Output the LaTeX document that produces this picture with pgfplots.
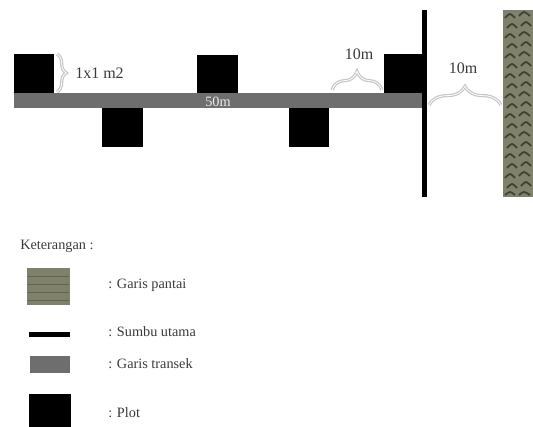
\documentclass[border=0pt]{standalone}
\usepackage{pgfplots}
\pgfplotsset{compat=1.18}
\usepackage{fontspec}
\setmainfont{Liberation Serif}
\usetikzlibrary{decorations.pathreplacing}
\definecolor{transek}{HTML}{6E6E6E}
\definecolor{pantai}{HTML}{7F816A}
\definecolor{pantaidark}{HTML}{3F4034}
\definecolor{txt}{HTML}{3A3A3A}
\tikzset{
  kurung/.style={decorate,decoration={brace,amplitude=#1},draw=gray!45,line width=0.9pt,double=white,double distance=0.6pt},
  lbl/.style={font=\fontsize{10.7}{12}\selectfont,text=txt,anchor=west,inner sep=0pt},
  besar/.style={font=\fontsize{12}{13}\selectfont}
}
\begin{document}
\begin{tikzpicture}
\begin{axis}[
    scale only axis,
    width=399.75pt,
    height=320.25pt,
    xmin=0, xmax=533,
    ymin=0, ymax=427,
    y dir=reverse,
    hide axis,
    clip=true,
    unbounded coords=jump
]
% keeps the whole page, the axis itself is hidden
\path (axis cs:0,0) rectangle (axis cs:533,427);
% garis transek
\addplot[fill=transek,draw=none] coordinates {(14,93) (425,93) (425,108) (14,108)} --cycle;
% plot
\addplot[fill=black,draw=none] coordinates {(14,54) (54,54) (54,93) (14,93)} --cycle;
\addplot[fill=black,draw=none] coordinates {(197,55) (238,55) (238,93) (197,93)} --cycle;
\addplot[fill=black,draw=none] coordinates {(384,54) (424,54) (424,93) (384,93)} --cycle;
\addplot[fill=black,draw=none] coordinates {(102,108) (143,108) (143,147) (102,147)} --cycle;
\addplot[fill=black,draw=none] coordinates {(289,108) (329,108) (329,147) (289,147)} --cycle;
% sumbu utama
\addplot[fill=black,draw=none] coordinates {(422,10) (427,10) (427,197) (422,197)} --cycle;
% garis pantai
\addplot[fill=pantai,draw=none] coordinates {(503,10) (533,10) (533,197) (503,197)} --cycle;
\addplot[pantaidark,line width=1.3pt,smooth] coordinates {
(505,18) (510,14) (515,18) (nan,nan) (519,16) (524,12) (530,16) (nan,nan)
(507,28) (512,24) (517,28) (nan,nan) (521,26) (526,22) (531,26) (nan,nan)
(505,38) (510,34) (515,38) (nan,nan) (519,36) (524,32) (530,36) (nan,nan)
(507,48) (512,44) (517,48) (nan,nan) (521,46) (526,42) (531,46) (nan,nan)
(505,58) (510,54) (515,58) (nan,nan) (519,56) (524,52) (530,56) (nan,nan)
(507,68) (512,64) (517,68) (nan,nan) (521,66) (526,62) (531,66) (nan,nan)
(505,78) (510,74) (515,78) (nan,nan) (519,76) (524,72) (530,76) (nan,nan)
(507,88) (512,84) (517,88) (nan,nan) (521,86) (526,82) (531,86) (nan,nan)
(505,98) (510,94) (515,98) (nan,nan) (519,96) (524,92) (530,96) (nan,nan)
(507,108) (512,104) (517,108) (nan,nan) (521,106) (526,102) (531,106) (nan,nan)
(505,118) (510,114) (515,118) (nan,nan) (519,116) (524,112) (530,116) (nan,nan)
(507,128) (512,124) (517,128) (nan,nan) (521,126) (526,122) (531,126) (nan,nan)
(505,138) (510,134) (515,138) (nan,nan) (519,136) (524,132) (530,136) (nan,nan)
(507,148) (512,144) (517,148) (nan,nan) (521,146) (526,142) (531,146) (nan,nan)
(505,158) (510,154) (515,158) (nan,nan) (519,156) (524,152) (530,156) (nan,nan)
(507,168) (512,164) (517,168) (nan,nan) (521,166) (526,162) (531,166) (nan,nan)
(505,178) (510,174) (515,178) (nan,nan) (519,176) (524,172) (530,176) (nan,nan)
(507,188) (512,184) (517,188) (nan,nan) (521,186) (526,182) (531,186) (nan,nan)
(505,195) (510,192) (515,195) (nan,nan) (519,195) (524,192) (530,195)
};
% keterangan
\addplot[fill=pantai,draw=none] coordinates {(27,268) (70,268) (70,305) (27,305)} --cycle;
\addplot[pantaidark!45!pantai,line width=0.5pt] coordinates {
(28,276) (69,276) (nan,nan) (28,284) (69,284) (nan,nan) (28,292) (69,292) (nan,nan) (28,300) (69,300)};
\addplot[fill=black,draw=none] coordinates {(29,332) (70,332) (70,337) (29,337)} --cycle;
\addplot[fill=transek,draw=none] coordinates {(30,356) (70,356) (70,373) (30,373)} --cycle;
\addplot[fill=black,draw=none] coordinates {(29,394) (71,394) (71,427) (29,427)} --cycle;
% kurung
\draw[kurung=7pt] (axis cs:57,54) -- (axis cs:57,92);
\draw[kurung=14pt] (axis cs:332,90) -- (axis cs:382,90);
\draw[kurung=14pt] (axis cs:429,105) -- (axis cs:501,105);
% teks
\node[lbl,besar] at (axis cs:75,73) {1x1 m2};
\node[lbl,besar,anchor=center] at (axis cs:359,54) {10m};
\node[lbl,besar,anchor=center] at (axis cs:463,68) {10m};
\node[lbl,text=white!85!gray,anchor=center] at (axis cs:218,102) {50m};
\node[lbl] at (axis cs:20,246) {Keterangan :};
\node[lbl] at (axis cs:108,285) {: Garis pantai};
\node[lbl] at (axis cs:108,332) {: Sumbu utama};
\node[lbl] at (axis cs:108,364) {: Garis transek};
\node[lbl] at (axis cs:108,413) {: Plot};
\end{axis}
\end{tikzpicture}
\end{document}
